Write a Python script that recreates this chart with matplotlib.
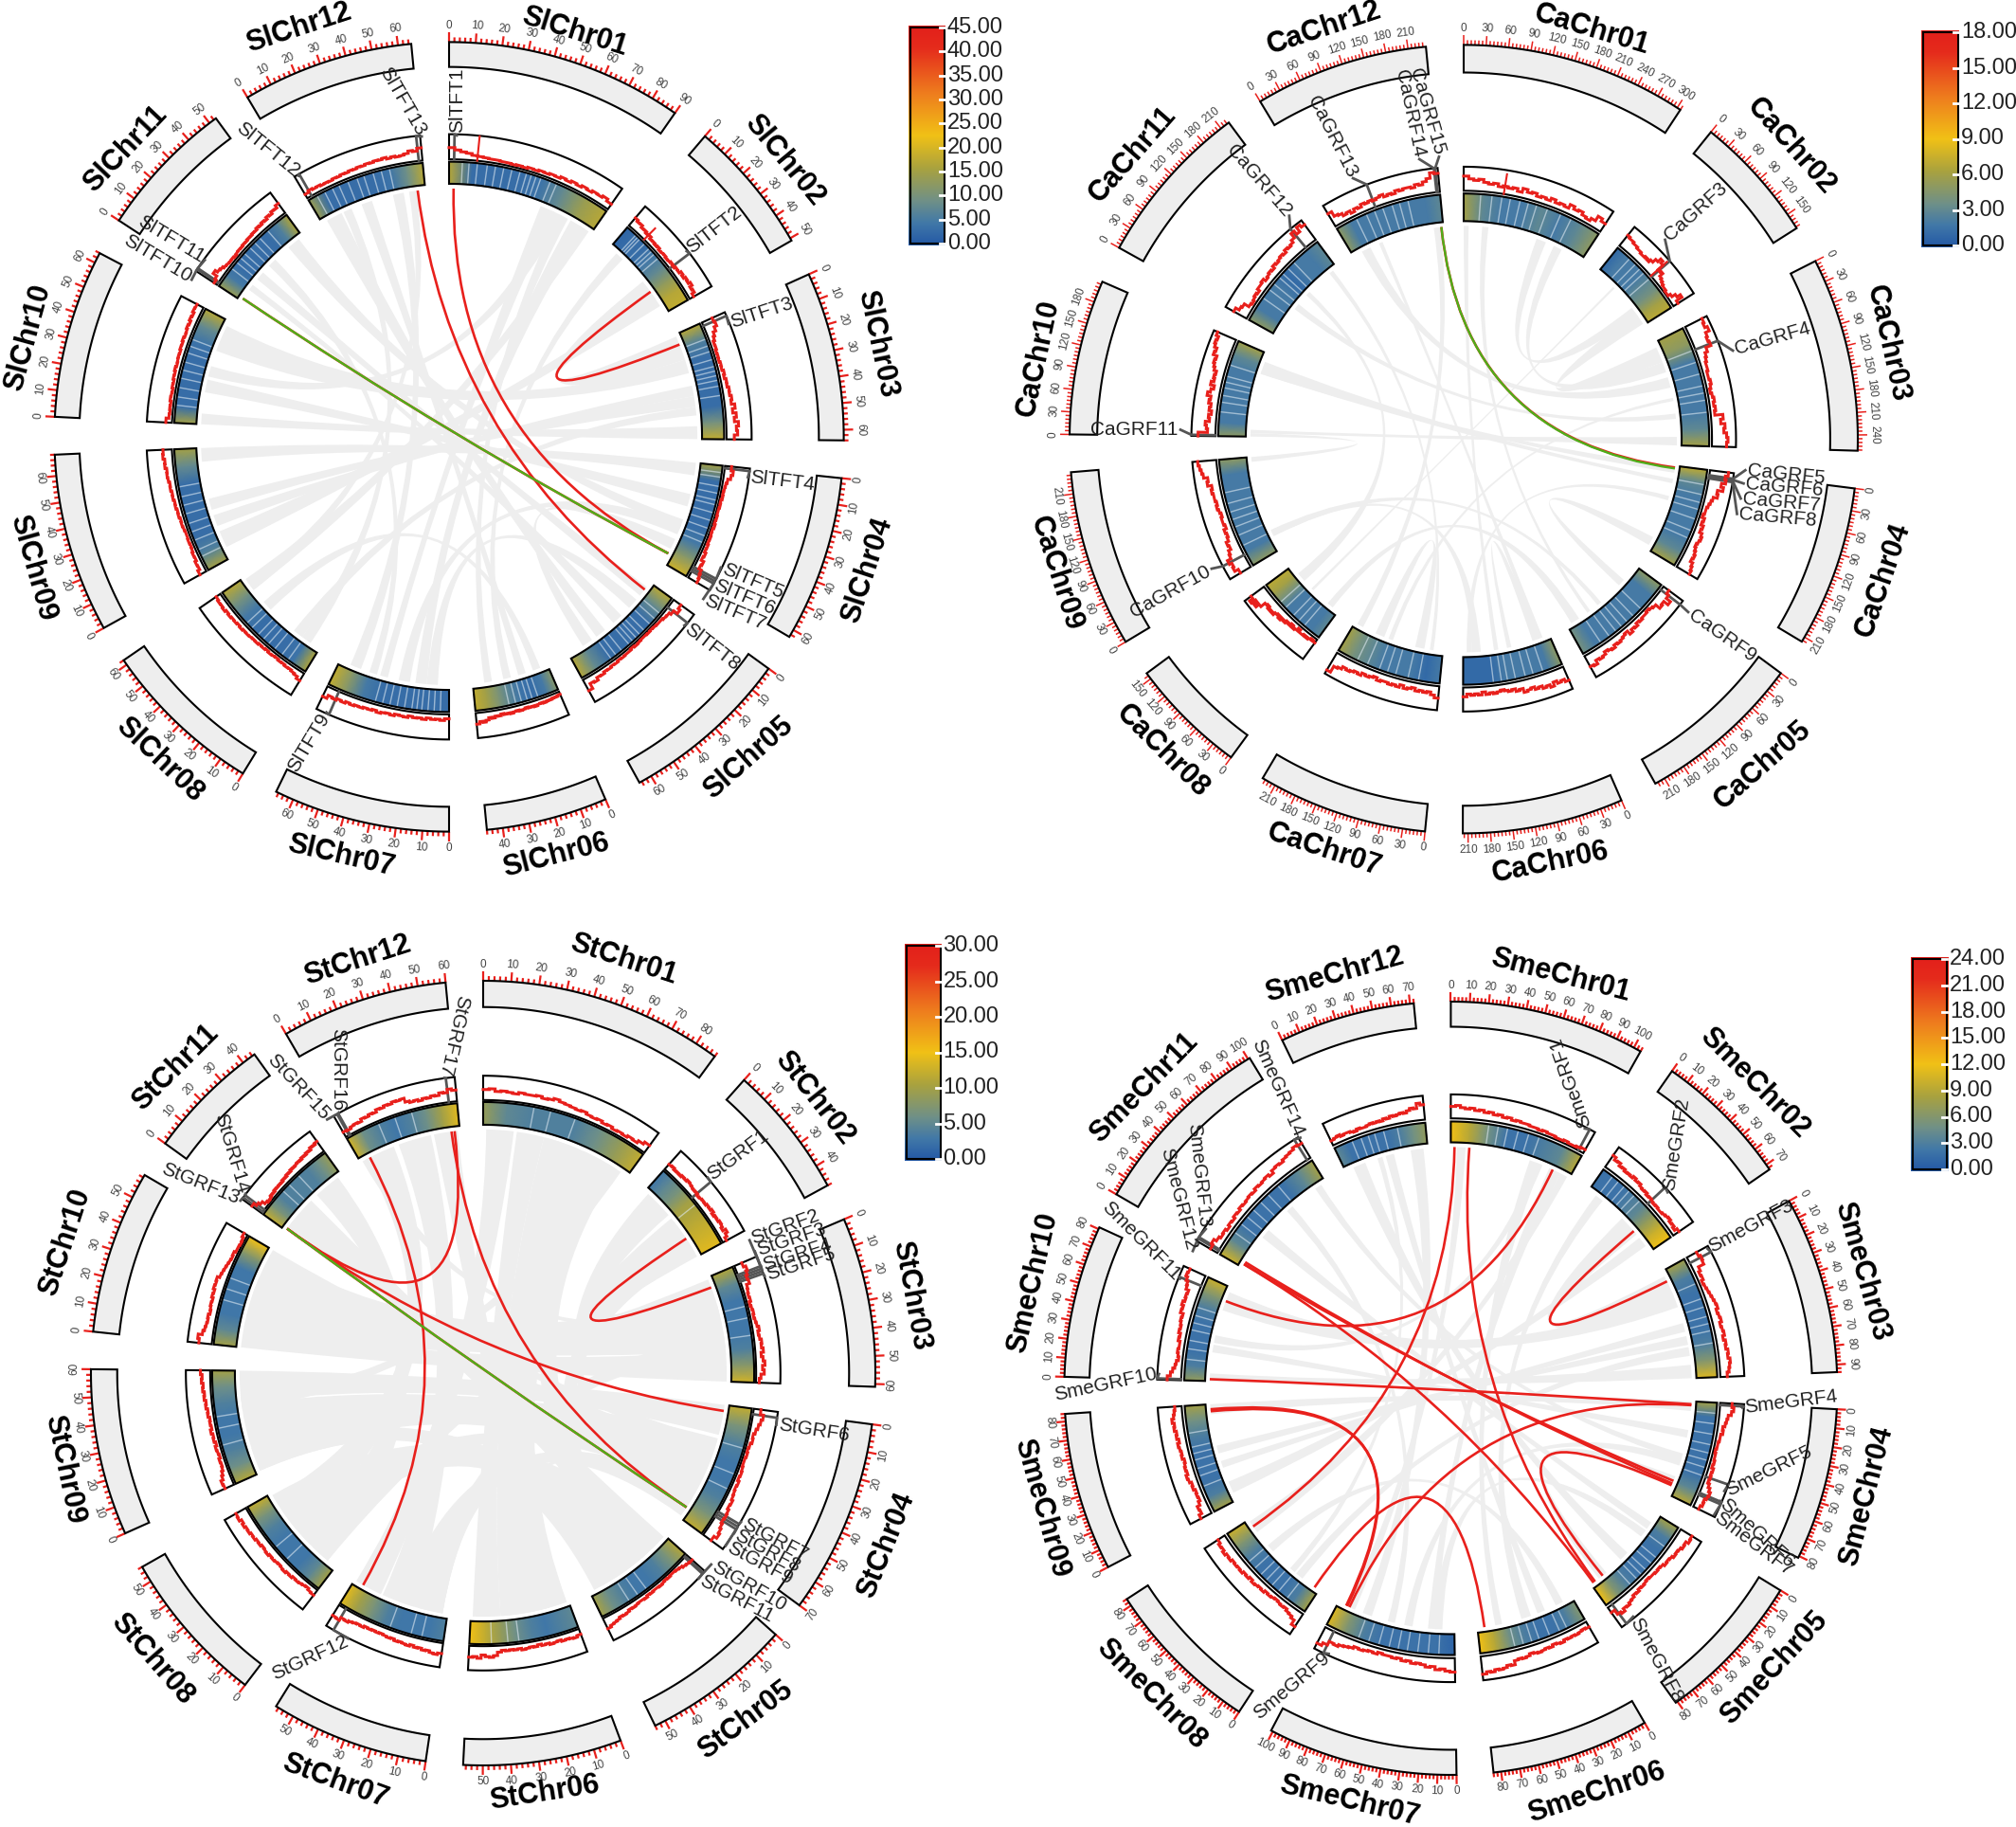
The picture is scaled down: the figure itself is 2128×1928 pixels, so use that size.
import numpy as np
import matplotlib
matplotlib.use('Agg')
import matplotlib.pyplot as plt
from matplotlib.path import Path
from matplotlib.patches import PathPatch
from matplotlib.colors import LinearSegmentedColormap

plt.rcParams['font.family'] = ['Liberation Sans', 'DejaVu Sans']

# chromosome lengths in Mb
sl_len = [90, 51, 64, 63, 65, 46, 67, 62, 68, 64, 53, 65]
ca_len = [305, 172, 261, 217, 224, 217, 229, 159, 239, 209, 223, 234]
st_len = [88, 48, 61, 70, 54, 57, 57, 56, 60, 59, 45, 60]
sme_len = [104, 73, 94, 81, 81, 84, 101, 84, 84, 81, 101, 72]

# line track values, one list per chromosome
sl_line = [
    [21, 17, 14, 12, 9, 8, 7, 6, 6, 5, 5, 4, 5, 4, 6, 5, 7, 6, 8, 7, 10, 8, 11, 9, 12, 10, 13, 12, 15, 11],
    [18, 15, 16, 12, 13, 10, 12, 8, 9, 7, 9, 6, 7, 8, 6, 7, 9, 7, 10, 9, 13, 10, 14, 12, 16, 11, 13, 8],
    [20, 22, 17, 12, 9, 6, 7, 5, 6, 5, 7, 6, 9, 7, 10, 9, 12, 11, 14, 12, 18, 13, 19, 15, 22, 18, 20, 14],
    [12, 16, 13, 8, 6, 5, 4, 5, 3, 4, 3, 3, 4, 3, 5, 3, 4, 5, 4, 6, 5, 8, 6, 11, 9, 14, 16, 18],
    [16, 20, 12, 8, 7, 5, 5, 4, 3, 4, 3, 3, 4, 5, 3, 5, 5, 6, 5, 7, 6, 8, 7, 10, 9, 14, 12, 22],
    [5, 7, 6, 8, 7, 9, 7, 8, 10, 8, 9, 7, 9, 10, 8, 9, 11, 9, 10, 8, 11, 10, 13, 11, 15, 18, 16, 20],
    [8, 11, 9, 10, 8, 11, 9, 10, 8, 11, 10, 9, 12, 10, 11, 13, 10, 12, 11, 13, 12, 14, 12, 15, 13, 16, 14, 20],
    [15, 11, 9, 7, 8, 6, 7, 5, 6, 7, 5, 7, 6, 8, 7, 8, 9, 8, 10, 8, 10, 9, 11, 9, 12, 10, 11, 9],
    [13, 9, 10, 7, 8, 6, 5, 6, 5, 5, 6, 7, 6, 8, 7, 9, 8, 10, 9, 11, 10, 12, 13, 12, 15, 14, 17, 16],
    [11, 6, 5, 6, 5, 7, 6, 5, 7, 6, 8, 7, 9, 7, 8, 9, 8, 10, 9, 11, 9, 10, 12, 10, 13, 11, 14, 13],
    [6, 9, 17, 12, 10, 7, 6, 5, 6, 4, 6, 7, 6, 8, 7, 9, 8, 10, 9, 12, 10, 13, 11, 15, 13, 17, 16, 21],
    [8, 11, 9, 10, 8, 9, 8, 10, 9, 11, 10, 12, 11, 13, 12, 14, 13, 15, 14, 16, 13, 15, 13, 14, 16, 20, 18, 23],
]
ca_line = [
    [11, 9, 8, 9, 7, 6, 7, 5, 6, 5, 6, 4, 7, 5, 6, 4, 5, 4, 6, 4, 5, 4, 7, 5, 6, 4, 3, 5, 9, 7],
    [10, 9, 9, 8, 8, 7, 7, 6, 6, 7, 6, 8, 11, 14, 12, 7, 8, 5, 4, 3, 2, 2, 1, 1, 3, 6, 9, 4],
    [14, 13, 15, 12, 11, 12, 8, 6, 5, 4, 4, 3, 3, 4, 3, 2, 3, 4, 3, 4, 3, 9, 7, 10, 9, 11, 12, 11],
    [14, 12, 13, 10, 12, 8, 9, 6, 5, 4, 3, 3, 2, 4, 3, 5, 4, 6, 7, 6, 5, 6, 7, 8, 7, 9, 10, 11],
    [5, 7, 11, 7, 8, 4, 3, 2, 3, 3, 4, 3, 5, 4, 6, 3, 4, 5, 6, 5, 7, 6, 5, 7, 8, 7, 10, 9],
    [11, 9, 10, 8, 11, 9, 10, 8, 9, 7, 8, 9, 6, 7, 5, 6, 5, 4, 5, 6, 5, 6, 4, 6, 5, 6, 5, 7],
    [9, 7, 5, 6, 5, 6, 4, 5, 6, 4, 6, 5, 6, 5, 5, 6, 4, 5, 6, 5, 7, 6, 7, 8, 7, 9, 10, 15],
    [3, 2, 3, 4, 3, 4, 4, 2, 4, 5, 3, 5, 4, 6, 5, 7, 5, 6, 8, 7, 8, 6, 7, 11, 14, 11, 15, 12],
    [9, 12, 11, 13, 10, 9, 7, 8, 6, 5, 6, 4, 5, 5, 4, 5, 6, 5, 6, 6, 7, 6, 9, 8, 11, 12, 13, 14],
    [13, 6, 7, 8, 5, 6, 4, 6, 5, 7, 6, 9, 7, 5, 8, 6, 7, 6, 8, 9, 10, 9, 12, 11, 13, 14, 13, 15],
    [11, 8, 7, 3, 2, 3, 4, 3, 5, 5, 6, 4, 5, 6, 5, 7, 6, 7, 8, 7, 9, 8, 9, 11, 15, 12, 16, 14],
    [11, 7, 6, 4, 5, 3, 5, 4, 6, 5, 6, 5, 6, 7, 5, 6, 5, 7, 6, 7, 7, 6, 8, 7, 9, 11, 15, 14],
]
st_line = [
    [13, 14, 11, 12, 11, 10, 12, 11, 11, 12, 10, 11, 13, 11, 10, 9, 8, 9, 7, 6, 7, 5, 6, 4, 5, 4, 6, 5, 8, 11],
    [8, 9, 7, 8, 7, 9, 8, 10, 9, 8, 7, 8, 6, 7, 8, 7, 9, 8, 10, 7, 9, 8, 10, 9, 7, 11, 8, 5],
    [10, 13, 11, 9, 10, 6, 5, 4, 5, 3, 4, 5, 4, 5, 6, 8, 6, 7, 9, 8, 10, 7, 9, 11, 8, 10, 6, 4],
    [9, 13, 11, 9, 7, 5, 6, 4, 3, 4, 3, 3, 4, 5, 4, 6, 5, 6, 7, 9, 8, 10, 11, 10, 12, 14, 16, 12],
    [9, 8, 7, 5, 4, 3, 3, 4, 3, 4, 5, 4, 4, 5, 4, 6, 5, 5, 6, 7, 6, 8, 9, 8, 10, 11, 12, 14],
    [7, 9, 8, 7, 8, 6, 7, 8, 6, 7, 5, 7, 6, 7, 8, 6, 7, 6, 7, 6, 8, 12, 14, 13, 11, 15, 13, 14],
    [13, 15, 14, 12, 13, 11, 12, 10, 12, 11, 10, 11, 9, 10, 9, 8, 9, 8, 9, 8, 10, 9, 10, 11, 13, 12, 16, 15],
    [8, 7, 5, 6, 7, 8, 7, 9, 8, 10, 9, 8, 9, 10, 9, 11, 10, 9, 11, 10, 12, 11, 13, 12, 14, 12, 15, 14],
    [12, 13, 10, 8, 6, 5, 6, 4, 5, 6, 4, 6, 5, 7, 5, 6, 5, 7, 6, 8, 7, 9, 8, 10, 9, 11, 10, 12],
    [16, 18, 13, 11, 10, 9, 10, 8, 9, 10, 9, 11, 10, 12, 11, 12, 9, 8, 7, 6, 5, 4, 5, 3, 3, 2, 3, 5],
    [15, 11, 8, 4, 2, 3, 5, 4, 6, 5, 6, 5, 7, 6, 8, 7, 9, 8, 9, 10, 9, 11, 10, 12, 11, 14, 13, 15],
    [7, 6, 8, 9, 8, 11, 10, 12, 11, 14, 13, 15, 14, 16, 15, 16, 11, 9, 10, 8, 10, 9, 11, 10, 13, 12, 16, 14],
]
sme_line = [
    [12, 13, 11, 10, 11, 9, 10, 8, 9, 7, 8, 6, 7, 5, 6, 5, 5, 4, 4, 3, 4, 3, 3, 2, 2, 3, 2, 2, 3, 4],
    [14, 11, 12, 9, 10, 8, 9, 8, 10, 8, 9, 7, 6, 7, 5, 6, 5, 4, 5, 4, 4, 5, 6, 7, 5, 6, 4, 7],
    [11, 13, 12, 6, 4, 5, 3, 4, 5, 6, 7, 8, 9, 7, 8, 9, 7, 8, 9, 7, 9, 8, 10, 9, 11, 10, 9, 7],
    [12, 14, 12, 9, 8, 7, 5, 6, 4, 4, 3, 3, 2, 3, 3, 4, 3, 5, 4, 5, 4, 6, 8, 10, 9, 7, 8, 6],
    [13, 14, 11, 12, 10, 9, 10, 8, 7, 8, 6, 5, 6, 5, 5, 4, 5, 6, 5, 7, 6, 8, 9, 11, 10, 13, 11, 6],
    [6, 5, 6, 7, 6, 7, 6, 8, 7, 6, 8, 7, 8, 9, 8, 7, 9, 10, 9, 10, 14, 13, 15, 16, 15, 17, 16, 18],
    [14, 13, 11, 12, 9, 10, 8, 7, 8, 6, 7, 5, 6, 5, 5, 4, 6, 5, 6, 7, 6, 8, 9, 10, 12, 11, 15, 18],
    [15, 10, 8, 7, 5, 6, 5, 4, 5, 6, 5, 7, 6, 7, 8, 6, 8, 7, 9, 8, 9, 8, 10, 9, 11, 9, 10, 8],
    [12, 9, 10, 7, 5, 6, 5, 7, 6, 8, 9, 7, 8, 7, 6, 8, 7, 8, 9, 7, 9, 8, 10, 9, 11, 9, 8, 7],
    [14, 11, 9, 7, 6, 4, 5, 6, 5, 5, 7, 6, 8, 7, 8, 9, 8, 11, 10, 12, 10, 11, 10, 13, 14, 16, 18, 17],
    [8, 10, 7, 5, 6, 4, 6, 5, 7, 6, 8, 7, 8, 9, 8, 10, 9, 10, 11, 9, 12, 13, 12, 14, 15, 16, 18, 17],
    [5, 6, 7, 5, 6, 6, 5, 4, 6, 5, 5, 6, 7, 6, 7, 6, 8, 7, 9, 8, 9, 10, 9, 11, 13, 12, 17, 15],
]

# narrow peaks on the line track: chromosome, Mb, value
sl_spikes = [(0, 15, 44), (1, 11, 28)]
ca_spikes = [(0, 85, 15), (1, 92, 16)]
st_spikes = []
sme_spikes = []

# heatmap values along each chromosome
sl_heat = [
    [17, 3, 3, 3, 4, 8, 14, 17], [2, 3, 3, 5, 8, 13, 17, 18],
    [17, 6, 3, 3, 3, 3, 10, 18], [15, 3, 3, 3, 3, 5, 12, 19],
    [17, 8, 3, 3, 3, 3, 8, 17], [12, 5, 3, 4, 7, 11, 15, 18],
    [3, 3, 3, 3, 3, 5, 12, 18], [16, 4, 3, 3, 3, 5, 10, 17],
    [15, 6, 3, 3, 3, 3, 8, 15], [15, 3, 3, 3, 3, 4, 8, 17],
    [14, 5, 3, 3, 3, 3, 6, 16], [14, 3, 3, 3, 3, 4, 9, 17],
]
ca_heat = [
    [6, 3, 2, 2, 3, 2, 3, 5], [1, 2, 2, 2, 3, 4, 6, 7],
    [6, 5, 2, 2, 2, 2, 3, 6], [7, 3, 2, 2, 2, 2, 3, 6],
    [5, 2, 2, 2, 2, 2, 2, 4], [5, 2, 2, 2, 2, 1, 1, 1],
    [2, 1, 2, 2, 2, 3, 4, 6], [3, 2, 2, 2, 2, 4, 6, 7],
    [5, 2, 2, 2, 2, 2, 2, 5], [5, 2, 2, 2, 2, 2, 3, 6],
    [5, 2, 2, 2, 1, 2, 2, 3], [5, 2, 2, 2, 2, 2, 2, 3],
]
st_heat = [
    [9, 5, 4, 4, 4, 6, 9, 12], [3, 5, 7, 10, 11, 12, 13, 14],
    [11, 5, 3, 3, 3, 4, 8, 13], [12, 7, 4, 3, 3, 4, 7, 12],
    [11, 7, 4, 3, 3, 4, 6, 10], [5, 4, 3, 4, 6, 9, 12, 15],
    [4, 3, 3, 3, 4, 7, 10, 14], [10, 5, 3, 3, 3, 4, 7, 12],
    [11, 6, 4, 3, 3, 4, 6, 10], [10, 5, 3, 3, 3, 3, 8, 15],
    [12, 7, 4, 4, 4, 4, 6, 9], [13, 6, 4, 3, 4, 6, 10, 14],
]
sme_heat = [
    [12, 9, 5, 2, 2, 3, 4, 9], [2, 2, 2, 3, 4, 7, 10, 12],
    [8, 3, 2, 2, 2, 3, 6, 11], [8, 2, 2, 2, 2, 2, 4, 9],
    [8, 3, 2, 2, 2, 3, 6, 12], [6, 3, 2, 2, 3, 5, 9, 12],
    [1, 2, 2, 2, 2, 3, 6, 11], [8, 3, 2, 2, 2, 3, 6, 10],
    [8, 3, 2, 2, 2, 3, 5, 8], [7, 3, 2, 2, 2, 3, 6, 10],
    [10, 4, 2, 2, 2, 2, 4, 8], [4, 2, 2, 2, 2, 3, 5, 7],
]

# pale gaps in the heatmap, as share of the chromosome
sl_gaps = [
    [.08, .12, .17, .23, .28, .33, .38, .43, .47, .50, .53, .56, .62, .66],
    [.12, .15, .18, .25, .32, .36, .40, .46],
    [.14, .20, .25, .32, .38, .42, .46, .50, .55, .63],
    [.06, .10, .18, .24, .30, .34, .41, .48, .55, .62, .68],
    [.16, .22, .28, .35, .40, .44, .48, .52, .60, .66, .71],
    [.25, .32, .38, .45, .52, .60],
    [.07, .12, .17, .22, .26, .30, .36, .42, .48, .54, .60],
    [.18, .25, .33, .40, .46, .52, .60, .66],
    [.12, .18, .26, .33, .40, .48, .55, .62, .70],
    [.15, .22, .30, .38, .45, .52, .60, .66, .72],
    [.22, .30, .36, .42, .50, .57, .64, .75],
    [.08, .15, .22, .28, .36, .44, .50, .58, .65, .72],
]
ca_gaps = [
    [.12, .2, .27, .33, .40, .46, .52, .6, .7, .78], [.2, .3, .38, .45, .55],
    [.2, .3, .4, .5, .56, .62, .72], [.15, .25, .33, .4, .5, .62, .7], [.3, .4, .48, .55, .62, .7, .8],
    [.2, .3, .38, .48, .56, .62, .7], [.2, .3, .42, .5, .58, .7, .8], [.25, .35, .45, .6, .7],
    [.2, .3, .38, .45, .52, .6, .7], [.25, .35, .42, .5, .56, .62, .74], [.25, .35, .42, .5, .55, .62, .7],
    [.2, .3, .38, .46, .55, .62, .7],
]
st_gaps = [
    [.3, .4, .55], [.5], [.35, .45, .6], [.3, .5, .62], [.5, .6, .7], [.55, .65, .8], [.2, .3, .5], [.4, .55],
    [.35, .5, .6], [.4, .5, .6], [.35, .45, .6], [.3, .45, .6],
]
sme_gaps = [
    [.28, .35, .42, .5, .58, .66], [.12, .2, .28, .35, .42, .5], [.22, .35, .42, .5, .56, .62, .72],
    [.1, .2, .3, .4, .48, .55, .62, .7], [.22, .35, .42, .5, .56, .62, .7], [.18, .25, .35, .45, .52, .6, .68],
    [.12, .2, .28, .36, .43, .5, .58, .66, .74], [.2, .3, .38, .45, .52, .6, .68], [.25, .35, .42, .5, .56, .62, .75],
    [.2, .3, .38, .48, .55, .62, .7], [.2, .28, .35, .42, .5, .58, .68], [.2, .3, .38, .45, .55, .7],
]

# grey synteny ribbons: chrA, from, to, chrB, from, to (share of chromosome)
sl_ribbons = [
    (9, 0, .1, 2, .88, 1), (8, .88, 1, 3, 0, .12), (9, .7, .95, 2, .25, .38), (0, .62, .72, 6, .55, .62),
    (0, .75, .82, 5, .75, .85), (0, .84, .95, 6, .2, .3), (1, .55, .8, 2, .02, .25), (11, .05, .2, 4, .6, .7),
    (11, .4, .5, 5, .3, .4), (11, .7, .8, 6, .8, .9), (11, .85, .92, 7, .85, .95), (10, .8, .95, 3, .55, .65),
    (10, .3, .4, 4, .05, .15), (8, .1, .25, 1, .75, .9), (8, .3, .4, 2, .5, .6), (7, .85, .98, 0, .9, .98),
    (7, .6, .7, 5, .1, .2), (6, .1, .2, 4, .2, .3), (6, .35, .45, 3, .6, .7), (9, .45, .55, 0, .7, .78),
    (4, .75, .85, 3, .75, .85), (5, .5, .6, 1, .1, .2), (3, .3, .42, 9, .3, .42), (2, .6, .7, 8, .45, .55),
    (11, .22, .3, 7, .1, .2), (10, .5, .6, 6, .65, .72), (7, .2, .3, 2, .7, .78), (4, .4, .5, 10, .15, .22),
]
ca_ribbons = [
    (9, 0, .04, 8, .95, 1), (2, .92, 1, 9, .04, .08), (11, .9, .97, 6, .9, .97), (11, .1, .2, 2, .35, .45),
    (0, .0, .04, 5, .6, .65), (0, .6, .68, 1, .7, .85), (1, .8, .98, 2, .05, .2), (2, .2, .3, 0, .75, .82),
    (3, .0, .08, 9, .75, .8), (3, .85, .95, 4, .2, .28), (4, .85, .95, 7, .1, .2), (5, .8, .9, 8, .15, .2),
    (5, .9, .96, 3, .35, .4), (6, .2, .3, 6, .65, .75), (6, .1, .14, 10, .9, .95), (7, .7, .85, 10, .55, .6),
    (8, .15, .22, 4, .55, .6), (9, .75, .9, 3, .15, .2), (10, .35, .42, 2, .7, .75), (11, .3, .34, 5, .08, .14),
    (0, .15, .2, 4, .7, .74), (1, .3, .33, 7, .5, .54), (6, .55, .6, 2, .55, .58), (5, .45, .5, 5, .12, .2),
]
st_ribbons = [
    (9, 0, .25, 2, .7, 1), (8, .7, 1, 3, 0, .25), (9, .3, .95, 2, .1, .68), (8, .1, .68, 3, .28, .75),
    (0, .02, .2, 6, .7, .98), (0, .22, .4, 5, .7, .98), (0, .42, .65, 5, .35, .68), (0, .67, .92, 4, .3, .75),
    (1, .45, .9, 2, .02, .25), (1, .05, .4, 3, .8, .98), (11, .05, .35, 7, .55, .95), (11, .4, .72, 6, .35, .68),
    (11, .75, .98, 5, .02, .32), (10, .6, .95, 7, .1, .5), (10, .1, .5, 4, .02, .35), (9, .92, 1, 3, .4, .6),
    (8, .02, .25, 4, .4, .95), (7, .5, .8, 3, .6, .78), (6, .05, .3, 2, .55, .75), (7, .1, .3, 1, .85, 1),
    (5, .2, .4, 3, .82, .95), (6, .05, .1, 4, .25, .4), (8, .62, .75, 0, .85, .95), (9, .55, .7, 2, .55, .7),
    (10, .05, .2, 3, .3, .4), (11, .02, .12, 2, .28, .35), (7, .85, .98, 4, .1, .2), (4, .75, .85, 8, .02, .1),
    (2, .25, .55, 9, .2, .6), (4, .02, .7, 7, .35, .85), (5, .02, .7, 0, .4, .9), (3, .75, .98, 6, .05, .5),
    (1, .5, .95, 4, .3, .7),
]
sme_ribbons = [
    (9, 0, .08, 2, .88, 1), (8, .9, 1, 3, 0, .1), (9, .75, .95, 2, .2, .35), (0, .05, .12, 6, .85, .92),
    (0, .65, .75, 5, .75, .82), (0, .82, .92, 6, .15, .22), (1, .5, .75, 2, .05, .25), (11, .1, .25, 4, .5, .6),
    (11, .5, .6, 5, .3, .38), (11, .8, .95, 6, .7, .78), (10, .9, .96, 3, .55, .62), (10, .3, .38, 4, .1, .18),
    (8, .08, .2, 1, .8, .92), (8, .35, .42, 2, .5, .58), (7, .85, .98, 0, .92, .98), (7, .6, .68, 5, .1, .18),
    (6, .1, .18, 4, .2, .28), (6, .35, .42, 3, .6, .68), (9, .4, .48, 0, .7, .76), (4, .8, .9, 3, .8, .88),
    (5, .45, .55, 1, .1, .2), (3, .3, .38, 9, .3, .38), (2, .62, .7, 8, .5, .58), (7, .2, .28, 2, .72, .8),
    (11, .4, .46, 7, .3, .36), (10, .6, .66, 6, .5, .56),
]

# red links: chrA, share, chrB, share
sl_links = [(0, .03, 3, .90), (11, .93, 4, .08), (1, .7, 2, .1), (10, .03, 3, .9)]
ca_links = [(11, .98, 3, .02)]
st_links = [(1, .75, 2, .1), (11, .92, 3, .9), (10, .03, 11, .95), (10, .03, 3, .05), (10, .03, 3, .9), (11, .1, 6, .9)]
sme_links = [
    (0, .03, 7, .92), (0, .15, 4, .95), (0, .85, 9, .85), (1, .7, 2, .1), (10, .03, 3, .85), (10, .05, 3, .88),
    (10, .03, 4, .97), (9, .02, 3, .03), (8, .95, 6, .92), (8, .93, 6, .93), (6, .9, 3, .04), (7, .05, 5, .93),
    (3, .9, 4, .85),
]
# green link drawn on top of a red one
sl_green = [(10, .03, 3, .9)]
ca_green = [(11, .98, 3, .03)]
st_green = [(10, .03, 3, .9)]
sme_green = []

# gene labels
sl_genes = ['SlTFT1', 'SlTFT2', 'SlTFT3', 'SlTFT4', 'SlTFT5', 'SlTFT6', 'SlTFT7', 'SlTFT8', 'SlTFT9', 'SlTFT10', 'SlTFT11', 'SlTFT12', 'SlTFT13']
sl_gene_chr = [0, 1, 2, 3, 3, 3, 3, 4, 6, 10, 10, 11, 11]
sl_gene_pos = [.03, .62, .03, .02, .90, .92, .94, .08, .90, .02, .03, .04, .97]
ca_genes = ['CaGRF3', 'CaGRF4', 'CaGRF5', 'CaGRF6', 'CaGRF7', 'CaGRF8', 'CaGRF9', 'CaGRF10', 'CaGRF11', 'CaGRF12', 'CaGRF13', 'CaGRF14', 'CaGRF15']
ca_gene_chr = [1, 2, 3, 3, 3, 3, 4, 8, 9, 10, 11, 11, 11]
ca_gene_pos = [.55, .2, .05, .06, .07, .08, .04, .12, .01, .88, .4, .97, .98]
st_genes = ['StGRF1', 'StGRF2', 'StGRF3', 'StGRF4', 'StGRF5', 'StGRF6', 'StGRF7', 'StGRF8', 'StGRF9', 'StGRF10', 'StGRF11', 'StGRF12', 'StGRF13', 'StGRF14', 'StGRF15', 'StGRF16', 'StGRF17']
st_gene_chr = [1, 2, 2, 2, 2, 3, 3, 3, 3, 4, 4, 6, 10, 10, 11, 11, 11]
st_gene_pos = [.42, .08, .1, .12, .14, .04, .8, .82, .84, .02, .03, .93, .02, .05, .03, .04, .93]
sme_genes = ['SmeGRF1', 'SmeGRF2', 'SmeGRF3', 'SmeGRF4', 'SmeGRF5', 'SmeGRF6', 'SmeGRF7', 'SmeGRF8', 'SmeGRF9', 'SmeGRF10', 'SmeGRF11', 'SmeGRF12', 'SmeGRF13', 'SmeGRF14']
sme_gene_chr = [0, 1, 2, 3, 3, 3, 3, 4, 6, 9, 9, 10, 10, 10]
sme_gene_pos = [.96, .58, .05, .02, .7, .86, .88, .95, .93, .01, .9, .02, .03, .97]

# colour bar tick labels
sl_bar = ['0.00', '5.00', '10.00', '15.00', '20.00', '25.00', '30.00', '35.00', '40.00', '45.00']
ca_bar = ['0.00', '3.00', '6.00', '9.00', '12.00', '15.00', '18.00']
st_bar = ['0.00', '5.00', '10.00', '15.00', '20.00', '25.00', '30.00']
sme_bar = ['0.00', '3.00', '6.00', '9.00', '12.00', '15.00', '18.00', '21.00', '24.00']

# layout of the four panels
panels = [
    dict(sp='Sl', lens=sl_len, line=sl_line, spikes=sl_spikes, heat=sl_heat, gaps=sl_gaps, ribbons=sl_ribbons,
         links=sl_links, green=sl_green, genes=sl_genes, gene_chr=sl_gene_chr, gene_pos=sl_gene_pos, bar=sl_bar,
         vmax=45, cx=474, cy=461, rx=416.6, ry=416.6, major=10, minor=2,
         radii=(.937, .7666, .703, .697, .641), bar_box=(961, 997, 29, 257), label_r=.77,
         label_ang=[1.5, 52, 68, 97.7, 115.7, 119, 122.5, 128.7, 204, 301.4, 305.9, 330, 354.8],
         label_rot=[90, 38, 18, -7, -23, -23, -23, -38, 59, -31, -31, -39, -60],
         name_xy=[(606, 34), (828, 169), (926, 363), (916, 602), (790, 800), (587, 903),
                  (360, 903), (168, 802), (34, 599), (30, 356), (132, 157), (315, 30)]),
    dict(sp='Ca', lens=ca_len, line=ca_line, spikes=ca_spikes, heat=ca_heat, gaps=ca_gaps, ribbons=ca_ribbons,
         links=ca_links, green=ca_green, genes=ca_genes, gene_chr=ca_gene_chr, gene_pos=ca_gene_pos, bar=ca_bar,
         vmax=18, cx=1545, cy=463.4, rx=416, ry=416, major=30, minor=5,
         radii=(.93, .691, .63, .623, .553), bar_box=(2030, 2067, 34, 259), label_r=.725,
         label_ang=[45.3, 71.8, 96.3, 99, 102.1, 105.3, 127.6, 242.8, 271.9, 322, 337, 351, 355],
         label_rot=[42, 16, -6, -5, -5, -5, -35, 29, 0, -49, -63, -78, -74],
         name_xy=[(1680, 31), (1890, 154), (1992, 363), (1988, 612), (1861, 808), (1637, 910),
                  (1398, 897), (1227, 793), (1115, 605), (1096, 378), (1196, 163), (1398, 30)]),
    dict(sp='St', lens=st_len, line=st_line, spikes=st_spikes, heat=st_heat, gaps=st_gaps, ribbons=st_ribbons,
         links=st_links, green=st_green, genes=st_genes, gene_chr=st_gene_chr, gene_pos=st_gene_pos, bar=st_bar,
         vmax=30, cx=510, cy=1449, rx=414, ry=414, major=10, minor=2,
         radii=(.933, .758, .696, .691, .633), bar_box=(957, 992.5, 998, 1223), label_r=.765,
         label_ang=[49, 63.5, 65.9, 69, 71, 100, 120, 122.5, 125.4, 130, 133.6, 207, 305.4, 307, 328.4, 331, 352.5],
         label_rot=[37, 20, 18, 18, 18, -9, -28, -28, -28, -30, -28, 25, -22, -73, -47, -90, -103],
         name_xy=[(658, 1013), (860, 1159), (962, 1367), (936, 1631), (787, 1815), (575, 1892),
                  (354, 1880), (161, 1751), (68, 1551), (69, 1311), (185, 1127), (377, 1013)]),
    dict(sp='Sme', lens=sme_len, line=sme_line, spikes=sme_spikes, heat=sme_heat, gaps=sme_gaps, ribbons=sme_ribbons,
         links=sme_links, green=sme_green, genes=sme_genes, gene_chr=sme_gene_chr, gene_pos=sme_gene_pos, bar=sme_bar,
         vmax=24, cx=1531.4, cy=1465, rx=408, ry=408, major=10, minor=2,
         radii=(.935, .76, .698, .69, .636), bar_box=(2018.5, 2055, 1012, 1234), label_r=.762,
         label_ang=[27.3, 47.9, 61.5, 93.8, 110.6, 112.7, 115.6, 141.4, 204.7, 272.8, 292, 298, 303, 329],
         label_rot=[109, 81, 28, 7, 26, -42, -37, -62, 40, 12, -45, -76, -84, -66],
         name_xy=[(1647, 1029), (1852, 1143), (1965, 1342), (1970, 1579), (1873, 1760), (1685, 1892),
                  (1424, 1901), (1215, 1788), (1099, 1591), (1090, 1354), (1208, 1148), (1409, 1029)]),
]

RED = '#e8201c'
GAP = 5.5
heat_cmap = LinearSegmentedColormap.from_list('heat', [
    (0, '#2358a6'), (.1, '#4178a8'), (.2, '#6f9088'), (.35, '#a9a23f'), (.5, '#f1c116'),
    (.7, '#ee7a1e'), (.9, '#e52b1c'), (1, '#e3201b')])

fig = plt.figure(figsize=(21.28, 19.28), dpi=100)
ax = fig.add_axes([0, 0, 1, 1])


def xy(p, theta, r):
    t = np.radians(theta)
    return p['cx'] + p['rx'] * r * np.sin(t), p['cy'] - p['ry'] * r * np.cos(t)


def tangent_rot(p, theta):
    t = np.radians(theta)
    rot = np.degrees(np.arctan2(-p['ry'] * np.sin(t), p['rx'] * np.cos(t)))
    if np.cos(t) < 0:
        rot += 180
    return rot


def band(ax, p, t0, t1, r0, r1, **kw):
    ts = np.linspace(t0, t1, 60)
    xa, ya = xy(p, ts, r1)
    xb, yb = xy(p, ts[::-1], r0)
    ax.fill(np.r_[xa, xb], np.r_[ya, yb], **kw)


def ribbon(ax, p, starts, k, rib):
    a, a0, a1, b, b0, b1 = rib
    rl = p['radii'][4] - .012
    ta = np.linspace(starts[a] + a0 * p['lens'][a] * k, starts[a] + a1 * p['lens'][a] * k, 6)
    tb = np.linspace(starts[b] + b0 * p['lens'][b] * k, starts[b] + b1 * p['lens'][b] * k, 6)
    pa = np.c_[xy(p, ta, rl)]
    pb = np.c_[xy(p, tb, rl)]
    ctr = (p['cx'], p['cy'])
    verts = list(map(tuple, pa)) + [ctr, tuple(pb[0])] + list(map(tuple, pb[1:])) + [ctr, tuple(pa[0]), tuple(pa[0])]
    codes = [Path.MOVETO] + [Path.LINETO] * 5 + [Path.CURVE3, Path.CURVE3] + [Path.LINETO] * 5 + [Path.CURVE3, Path.CURVE3, Path.CLOSEPOLY]
    ax.add_patch(PathPatch(Path(verts, codes), fc='#eeeeee', ec='none', zorder=1))


def link(ax, p, starts, k, lk, color, lw, z):
    a, fa, b, fb = lk
    rl = p['radii'][4] - .012
    pa = xy(p, starts[a] + fa * p['lens'][a] * k, rl)
    pb = xy(p, starts[b] + fb * p['lens'][b] * k, rl)
    path = Path([pa, (p['cx'], p['cy']), pb], [Path.MOVETO, Path.CURVE3, Path.CURVE3])
    ax.add_patch(PathPatch(path, fc='none', ec=color, lw=lw, zorder=z))


def draw_panel(ax, p):
    lens = np.array(p['lens'], dtype=float)
    k = (360 - 12 * GAP) / lens.sum()
    starts = np.r_[0, np.cumsum(lens * k + GAP)[:-1]]
    band_in, line_out, line_in, heat_out, heat_in = p['radii']

    for rib in p['ribbons']:
        ribbon(ax, p, starts, k, rib)
    for lk in p['links']:
        link(ax, p, starts, k, lk, RED, 1.9, 2)
    for lk in p['green']:
        link(ax, p, starts, k, lk, '#4fae1a', 1.7, 3)

    for i, length in enumerate(p['lens']):
        t0, t1 = starts[i], starts[i] + length * k
        # outer band
        band(ax, p, t0, t1, band_in, 1, fc='#eeeeee', ec='black', lw=1.5, zorder=4)
        # ticks and tick labels
        for mb in np.arange(0, length + .01, p['minor']):
            th = t0 + mb * k
            is_major = mb % p['major'] == 0
            x0, y0 = xy(p, th, 1.0)
            x1, y1 = xy(p, th, 1.024 if is_major else 1.012)
            ax.plot([x0, x1], [y0, y1], color=RED, lw=1.6 if p['minor'] == 2 else 1.1, zorder=3, solid_capstyle='butt')
            if is_major:
                xt, yt = xy(p, th, 1.042)
                ax.text(xt, yt, str(int(mb)), fontsize=8.5, color='#444444', rotation=tangent_rot(p, th),
                        ha='center', va='center', rotation_mode='anchor', zorder=5)
        # chromosome name
        mid = (t0 + t1) / 2
        xn, yn = p['name_xy'][i]
        ax.text(xn, yn, '%sChr%02d' % (p['sp'], i + 1), fontsize=22, fontweight='bold', rotation=tangent_rot(p, mid),
                ha='center', va='center', rotation_mode='anchor', zorder=5)

        # line track, one step per value
        band(ax, p, t0, t1, line_in, line_out, fc='white', ec='black', lw=1.5, zorder=4)
        vals = np.array(p['line'][i], dtype=float) / p['vmax']
        edges = np.linspace(t0, t1, len(vals) + 1)
        ts = np.c_[edges[:-1], edges[1:]].ravel()
        xl, yl = xy(p, ts, line_in + np.repeat(vals, 2) * (line_out - line_in))
        ax.plot(xl, yl, color=RED, lw=2.2, zorder=6, solid_joinstyle='miter')

        # heatmap
        hv = np.array(p['heat'][i], dtype=float)
        hts = np.linspace(t0, t1, len(hv))
        xo, yo = xy(p, hts, heat_out)
        xi, yi = xy(p, hts, heat_in)
        ax.pcolormesh(np.array([xo, xi]), np.array([yo, yi]), np.array([hv, hv]), shading='gouraud',
                      cmap=heat_cmap, vmin=0, vmax=p['vmax'], zorder=4)
        for f in p['gaps'][i]:
            th = t0 + f * (t1 - t0)
            x0, y0 = xy(p, th, heat_in)
            x1, y1 = xy(p, th, heat_out)
            ax.plot([x0, x1], [y0, y1], color='#dfeaf2', alpha=.6, lw=1, zorder=4.5, solid_capstyle='butt')
        band(ax, p, t0, t1, heat_in, heat_out, fc='none', ec='black', lw=1.5, zorder=5)

    for chrom, mb, val in p['spikes']:
        th = starts[chrom] + mb * k
        x0, y0 = xy(p, th, line_in)
        x1, y1 = xy(p, th, line_in + val / p['vmax'] * (line_out - line_in))
        ax.plot([x0, x1], [y0, y1], color=RED, lw=1.5, zorder=6)

    # gene labels and connectors
    for name, chrom, pos, ang, rot in zip(p['genes'], p['gene_chr'], p['gene_pos'], p['label_ang'], p['label_rot']):
        th = starts[chrom] + pos * p['lens'][chrom] * k
        x0, y0 = xy(p, th, line_in)
        x1, y1 = xy(p, th, line_out)
        x2, y2 = xy(p, ang, p['label_r'] - .006)
        ax.plot([x0, x1, x2], [y0, y1, y2], color='#555555', lw=2, zorder=5.5, solid_joinstyle='round')
        xt, yt = xy(p, ang, p['label_r'])
        ax.text(xt, yt, name, fontsize=15, color='#222222', rotation=rot, rotation_mode='anchor',
                ha='left' if ang < 180 else 'right', va='center', zorder=7)

    # colour bar, the fill runs a little past its black frame
    x0, x1, y0, y1 = p['bar_box']
    grad = np.linspace(1, 0, 256).reshape(-1, 1)
    ax.imshow(grad, extent=(x0 - 2, x1 + 1, y1 + 2, y0 - 2), cmap=heat_cmap, vmin=0, vmax=1, aspect='auto', zorder=2)
    ax.plot([x0, x1, x1, x0, x0], [y0, y0, y1, y1, y0], color='black', lw=1.5, zorder=3)
    for lab, yy in zip(p['bar'], np.linspace(y1, y0, len(p['bar']))):
        ax.plot([x1 - 5, x1], [yy, yy], color='white', lw=2, zorder=4)
        ax.text(x1 + 3, yy, lab, fontsize=17, color='#222222', ha='left', va='center')


for p in panels:
    draw_panel(ax, p)

ax.set_xlim(0, 2128)
ax.set_ylim(1928, 0)
ax.axis('off')
fig.savefig('out.png', dpi=100, facecolor='white')
